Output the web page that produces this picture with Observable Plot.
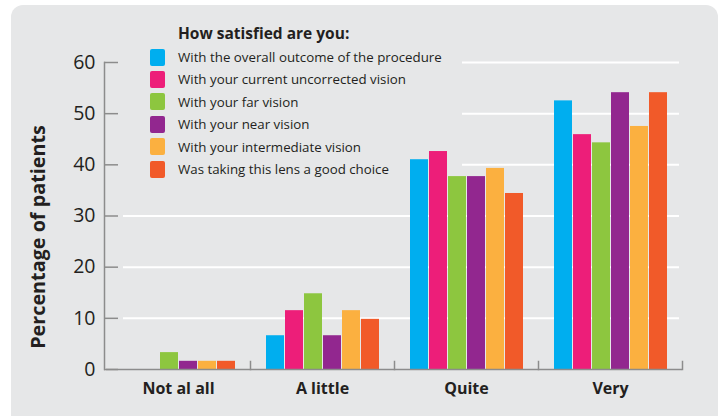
<!DOCTYPE html>
<html>
<head>
<meta charset="utf-8">
<script src="https://cdn.jsdelivr.net/npm/d3@7"></script>
<script src="https://cdn.jsdelivr.net/npm/@observablehq/plot@0.6"></script>
<style>
  html, body { margin: 0; padding: 0; background: #ffffff; }
  #wrap { position: relative; width: 724px; height: 416px; overflow: hidden; font-family: "Open Sans", Lato, sans-serif; color: #231f20; }
  #panel { position: absolute; left: 11px; top: 5px; width: 707px; height: 440px; background: #e6e7e8; border-radius: 12px; }
  .layer { position: absolute; left: 0; top: 0; }
  .layer svg { display: block; }
  #legendBox { position: absolute; left: 123px; top: 15px; width: 339px; height: 185px; background: #e6e7e8; }
  #legendTitle { position: absolute; left: 178px; top: 22px; font-size: 15.5px; font-weight: bold; line-height: 22px; white-space: nowrap; }
  .lrow { position: absolute; left: 150px; height: 22px; line-height: 22px; font-size: 13.3px; white-space: nowrap; }
  .lsw { position: absolute; left: 0; top: 2.5px; width: 15px; height: 17px; border-radius: 2px; }
  .ltx { position: absolute; left: 28px; top: 0; }
</style>
</head>
<body>
<div id="wrap">
  <div id="panel"></div>
  <div id="baseLayer" class="layer"></div>
  <div id="legendBox"></div>
  <div id="legendTitle"></div>
  <div id="legendRows"></div>
  <div id="mainLayer" class="layer"></div>
</div>
<script>
// ---- data ----
const categories = ["Not al all", "A little", "Quite", "Very"];
const seriesNames = [
  "With the overall outcome of the procedure",
  "With your current uncorrected vision",
  "With your far vision",
  "With your near vision",
  "With your intermediate vision",
  "Was taking this lens a good choice"
];
const overallOutcome      = [0,   6.6, 41.0, 52.5];
const uncorrectedVision   = [0,  11.5, 42.6, 45.9];
const farVision           = [3.3, 14.8, 37.7, 44.3];
const nearVision          = [1.6,  6.6, 37.7, 54.1];
const intermediateVision  = [1.6, 11.5, 39.3, 47.5];
const goodChoice          = [1.6,  9.8, 34.4, 54.1];
const colors = ["#00aeef", "#ed1e79", "#8dc63f", "#92278f", "#fbb040", "#f15a29"];
const yTicks = [0, 10, 20, 30, 40, 50, 60];
const legendTitle = "How satisfied are you:";
const yTitle = "Percentage of patients";

const seriesValues = [overallOutcome, uncorrectedVision, farVision, nearVision, intermediateVision, goodChoice];
const rows = [];
categories.forEach((c, ci) => {
  seriesNames.forEach((s, si) => rows.push({category: c, series: s, value: seriesValues[si][ci]}));
});

// ---- layout ----
const W = 724, H = 416, mL = 104, mR = 41, mT = 62, mB = 47;
const frameW = W - mL - mR;
const frameH = H - mT - mB;
const axisGray = "#8c8c8c";
const font = "'Open Sans', Lato, sans-serif";

// bottom layer: gridlines, y axis
const base = Plot.plot({
  width: W, height: H,
  marginLeft: mL, marginRight: mR, marginTop: mT, marginBottom: mB,
  style: {background: "transparent", color: "#231f20", fontFamily: font, overflow: "visible"},
  y: {domain: [0, 60]},
  marks: [
    Plot.ruleY(yTicks.filter(d => d > 0), {stroke: "#ffffff", strokeWidth: 2, insetLeft: 19, insetRight: 4}),
    Plot.ruleY(yTicks, {stroke: axisGray, strokeWidth: 1.5, insetRight: frameW - 14}),
    Plot.frame({anchor: "left", stroke: axisGray, strokeWidth: 1.5}),
    Plot.axisY({ticks: yTicks, tickSize: 0, tickPadding: 9, fontSize: 19.5, label: null}),
    Plot.text([yTitle], {frameAnchor: "left", textAnchor: "middle", rotate: -90, dx: -66, dy: 21, fontSize: 19.8, fontWeight: "bold", fill: "#231f20"})
  ]
});
document.getElementById("baseLayer").appendChild(base);

// legend
document.getElementById("legendTitle").textContent = legendTitle;
const lr = document.getElementById("legendRows");
seriesNames.forEach((s, i) => {
  const row = document.createElement("div");
  row.className = "lrow";
  row.style.top = (57 + 22.4 * i - 11) + "px";
  const sw = document.createElement("div");
  sw.className = "lsw";
  sw.style.background = colors[i];
  const tx = document.createElement("div");
  tx.className = "ltx";
  tx.textContent = s;
  row.appendChild(sw); row.appendChild(tx);
  lr.appendChild(row);
});

// top layer: bars and x axis
const main = Plot.plot({
  width: W, height: H,
  marginLeft: mL, marginRight: mR, marginTop: mT, marginBottom: mB,
  style: {background: "transparent", color: "#231f20", fontFamily: font, overflow: "visible"},
  fx: {domain: categories, padding: 0},
  x: {domain: seriesNames, paddingInner: 0.07, paddingOuter: 0.785, axis: null},
  y: {domain: [0, 60], axis: null},
  color: {domain: seriesNames, range: colors},
  marks: [
    Plot.barY(rows, {fx: "category", x: "series", y: "value", fill: "series"}),
    Plot.ruleY([0], {stroke: axisGray, strokeWidth: 1.5}),
    Plot.frame({anchor: "right", insetTop: frameH - 8, stroke: axisGray, strokeWidth: 1.5}),
    Plot.axisFx({anchor: "bottom", tickSize: 0, tickPadding: 13, fontSize: 16, fontWeight: "bold", label: null})
  ]
});
document.getElementById("mainLayer").appendChild(main);
</script>
</body>
</html>
